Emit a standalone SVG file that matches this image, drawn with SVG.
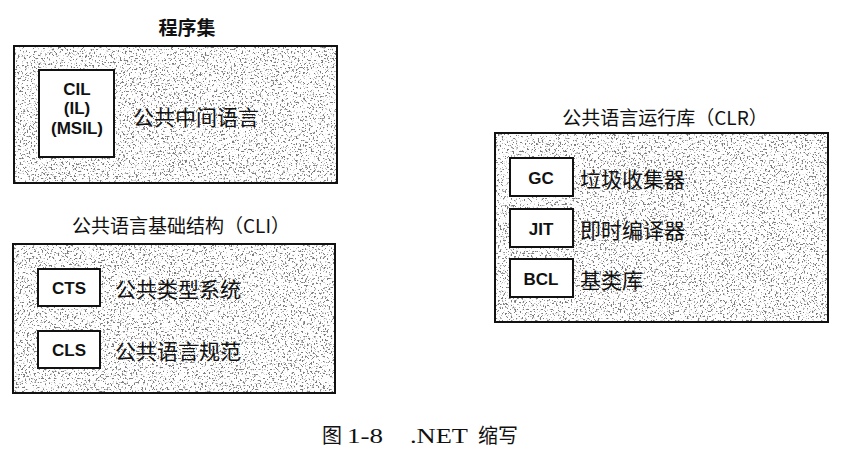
<svg xmlns="http://www.w3.org/2000/svg" width="854" height="469" viewBox="0 0 854 469">
<defs>
<filter id="speck" x="0" y="0" width="1" height="1" filterUnits="objectBoundingBox">
<feTurbulence type="fractalNoise" baseFrequency="0.55" numOctaves="2" seed="7" result="n"/>
<feColorMatrix in="n" type="matrix" values="0 0 0 0 0.2  0 0 0 0 0.2  0 0 0 0 0.2  10 0 0 0 -5.7" result="d"/>
<feFlood flood-color="#ffffff" result="w"/>
<feComposite in="d" in2="w" operator="over"/>
</filter>
</defs>
<style>
.outer{fill:#fff;stroke:none}
.frame{fill:none;stroke:#111;stroke-width:2}
.inner{fill:#fff;stroke:#111;stroke-width:2}
.title{font-family:"Noto Sans CJK SC","Noto Sans",sans-serif;font-size:19px;fill:#111;text-anchor:middle}
.cjk{font-family:"Noto Sans CJK SC",sans-serif;font-size:21px;fill:#111}
.lab{font-family:"Liberation Sans",Arial,sans-serif;font-size:17px;font-weight:bold;fill:#111;text-anchor:middle}
.cap{font-family:"Liberation Serif","Noto Sans CJK SC",serif;font-size:22px;fill:#111}
.capc{font-family:"Noto Sans CJK SC",serif;font-size:20px;fill:#111}
</style>
<g id="assembly">
<text class="title" x="187" y="35" font-weight="bold">程序集</text>
<rect class="outer" x="14" y="46" width="323" height="137" filter="url(#speck)"/>
<rect class="frame" x="14" y="46" width="323" height="137"/>
<rect class="inner" x="39" y="70" width="75" height="87"/>
<text class="lab" x="77" y="95">CIL</text>
<text class="lab" x="77" y="114">(IL)</text>
<text class="lab" x="77" y="134">(MSIL)</text>
<text class="cjk" x="133" y="125">公共中间语言</text>
</g>
<g id="cli">
<text class="title" x="181" y="233">公共语言基础结构（CLI）</text>
<rect class="outer" x="13" y="244" width="322" height="149" filter="url(#speck)"/>
<rect class="frame" x="13" y="244" width="322" height="149"/>
<rect class="inner" x="38" y="269" width="62" height="37"/>
<text class="lab" x="69" y="294">CTS</text>
<text class="cjk" x="115" y="297">公共类型系统</text>
<rect class="inner" x="38" y="331" width="62" height="37"/>
<text class="lab" x="69" y="356">CLS</text>
<text class="cjk" x="115" y="359">公共语言规范</text>
</g>
<g id="clr">
<text class="title" x="665" y="125">公共语言运行库（CLR）</text>
<rect class="outer" x="495" y="133" width="333" height="189" filter="url(#speck)"/>
<rect class="frame" x="495" y="133" width="333" height="189"/>
<rect class="inner" x="510" y="158" width="63" height="38"/>
<text class="lab" x="541" y="184">GC</text>
<text class="cjk" x="580" y="187">垃圾收集器</text>
<rect class="inner" x="510" y="209" width="63" height="38"/>
<text class="lab" x="541" y="235">JIT</text>
<text class="cjk" x="580" y="238">即时编译器</text>
<rect class="inner" x="510" y="259" width="63" height="38"/>
<text class="lab" x="541" y="285">BCL</text>
<text class="cjk" x="580" y="288">基类库</text>
</g>
<g id="connectors"></g>
<g id="caption">
<text class="capc" x="322" y="443">图</text>
<text class="cap" x="347" y="443" textLength="36" lengthAdjust="spacingAndGlyphs">1-8</text>
<text class="cap" x="410" y="443" textLength="58" lengthAdjust="spacingAndGlyphs">.NET</text>
<text class="capc" x="478" y="443">缩写</text>
</g>
</svg>
